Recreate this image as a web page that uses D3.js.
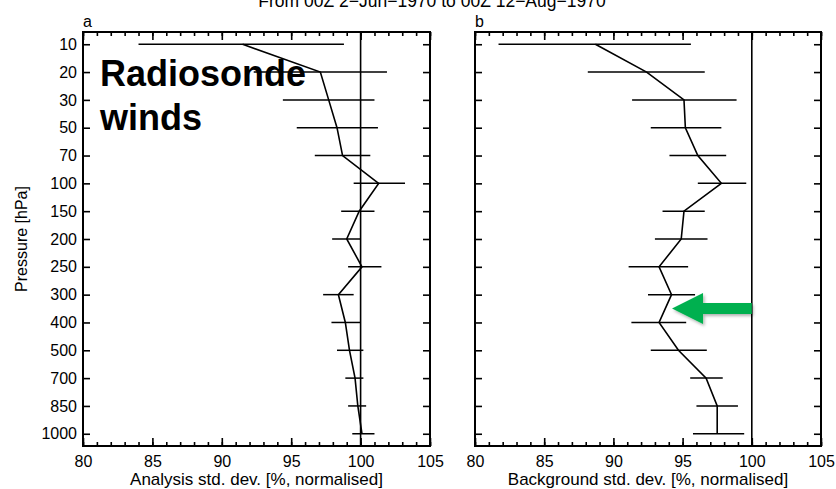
<!DOCTYPE html>
<html>
<head>
<meta charset="utf-8">
<script src="https://cdn.jsdelivr.net/npm/d3@7"></script>
<style>
  body { margin: 0; background: #fff; }
  text { font-family: "Liberation Sans", Arial, sans-serif; fill: #000; }
</style>
</head>
<body>
<div id="chart"></div>
<script>
// pressure levels (hPa), top to bottom
var levels = [10, 20, 30, 50, 70, 100, 150, 200, 250, 300, 400, 500, 700, 850, 1000];

// panel a: analysis std. dev. (mean and error bar ends)
var anMean = [91.5, 97.1, 97.7, 98.3, 98.7, 101.3, 99.9, 99.0, 100.1, 98.4, 98.9, 99.2, 99.6, 99.8, 100.1];
var anLow  = [84.0, 92.3, 94.4, 95.4, 96.7, 99.5, 98.6, 97.95, 99.1, 97.3, 97.9, 98.3, 98.9, 99.1, 99.4];
var anHigh = [98.8, 101.9, 101.0, 101.25, 100.7, 103.2, 101.0, 100.0, 101.5, 99.5, 100.0, 100.2, 100.2, 100.4, 101.0];

// panel b: background std. dev.
var bgMean = [88.7, 92.4, 95.1, 95.2, 96.1, 97.8, 95.1, 94.9, 93.3, 94.2, 93.3, 94.7, 96.7, 97.5, 97.5];
var bgLow  = [81.7, 88.15, 91.35, 92.7, 94.05, 96.1, 93.55, 93.0, 91.1, 92.5, 91.3, 92.7, 95.55, 96.0, 95.75];
var bgHigh = [95.6, 96.6, 98.9, 97.8, 98.15, 99.6, 96.6, 96.8, 95.4, 95.9, 95.26, 96.75, 97.9, 99.0, 99.45];

var xTicks = [80, 85, 90, 95, 100, 105];
var title = "From 00Z  2\u2212Jun\u22121970 to 00Z 12\u2212Aug\u22121970";

var width = 836, height = 489;
var plotTop = 32, plotBottom = 446;

var svg = d3.select("#chart").append("svg")
  .attr("width", width)
  .attr("height", height);

svg.append("rect").attr("width", width).attr("height", height).attr("fill", "#fff");

var defs = svg.append("defs");
var shadow = defs.append("filter").attr("id", "shadow")
  .attr("x", "-20%").attr("y", "-40%").attr("width", "150%").attr("height", "200%");
shadow.append("feDropShadow").attr("dx", 1.5).attr("dy", 2).attr("stdDeviation", 1.5)
  .attr("flood-color", "#000").attr("flood-opacity", 0.3);

// title sits mostly above the top edge, as in the original
svg.append("text").attr("x", 432).attr("y", 7).attr("text-anchor", "middle")
  .style("font-size", "17.5px").text(title);

var y = d3.scalePoint().domain(levels).range([plotTop, plotBottom]).padding(0.44);

function drawPanel(left, right, letter, xLabel, mean, low, high, showY) {
  var x = d3.scaleLinear().domain([80, 105]).range([left, right]);
  var g = svg.append("g");

  // minor ticks bottom and top
  g.append("g").attr("transform", "translate(0," + plotBottom + ")")
    .call(d3.axisBottom(x).tickValues(d3.range(80, 106, 1)).tickSize(-4).tickFormat(""));
  g.append("g").attr("transform", "translate(0," + plotTop + ")")
    .call(d3.axisTop(x).tickValues(d3.range(80, 106, 1)).tickSize(-4).tickFormat(""));
  // major ticks
  g.append("g").attr("transform", "translate(0," + plotBottom + ")")
    .call(d3.axisBottom(x).tickValues(xTicks).tickSize(-8).tickPadding(10).tickFormat(d3.format("d")));
  g.append("g").attr("transform", "translate(0," + plotTop + ")")
    .call(d3.axisTop(x).tickValues(xTicks).tickSize(-8).tickFormat(""));

  // y ticks both sides
  var yl = d3.axisLeft(y).tickSize(-7).tickPadding(6);
  if (!showY) yl.tickFormat("");
  g.append("g").attr("transform", "translate(" + left + ",0)").call(yl);
  g.append("g").attr("transform", "translate(" + right + ",0)")
    .call(d3.axisRight(y).tickSize(-7).tickFormat(""));

  g.selectAll(".domain").remove();
  g.selectAll(".tick line").attr("stroke", "#000").attr("stroke-width", 1.6);
  g.selectAll(".tick text").style("font-size", "16px").attr("fill", "#000")
    .style("font-family", "'Liberation Sans', Arial, sans-serif");

  // reference line at 100 %
  g.append("line")
    .attr("x1", x(100)).attr("x2", x(100))
    .attr("y1", plotTop).attr("y2", plotBottom)
    .attr("stroke", "#000").attr("stroke-width", 1.6);

  // error bars
  g.selectAll(".err").data(levels).enter().append("line")
    .attr("x1", function(d, i) { return x(low[i]); })
    .attr("x2", function(d, i) { return x(high[i]); })
    .attr("y1", function(d) { return y(d); })
    .attr("y2", function(d) { return y(d); })
    .attr("stroke", "#000").attr("stroke-width", 1.5);

  // profile
  var line = d3.line()
    .x(function(d, i) { return x(mean[i]); })
    .y(function(d) { return y(d); });
  g.append("path").datum(levels)
    .attr("d", line)
    .attr("fill", "none").attr("stroke", "#000").attr("stroke-width", 1.6);

  // frame
  g.append("rect")
    .attr("x", left).attr("y", plotTop)
    .attr("width", right - left).attr("height", plotBottom - plotTop)
    .attr("fill", "none").attr("stroke", "#000").attr("stroke-width", 2);

  g.append("text").attr("x", left).attr("y", 27).style("font-size", "16px").text(letter);
  g.append("text").attr("x", (left + right) / 2).attr("y", 485)
    .attr("text-anchor", "middle").style("font-size", "17px").text(xLabel);

  return { x: x, g: g };
}

var pa = drawPanel(83, 430, "a", "Analysis std. dev. [%, normalised]", anMean, anLow, anHigh, true);
var pb = drawPanel(475, 821, "b", "Background std. dev. [%, normalised]", bgMean, bgLow, bgHigh, false);

svg.append("text")
  .attr("transform", "translate(27," + (plotTop + plotBottom) / 2 + ") rotate(-90)")
  .attr("text-anchor", "middle").style("font-size", "16px")
  .text("Pressure [hPa]");

// big annotation in panel a
var note = pa.g.append("text").attr("x", 100).attr("y", 86)
  .style("font-size", "36px").style("font-weight", "bold");
note.append("tspan").attr("x", 100).text("Radiosonde");
note.append("tspan").attr("x", 100).attr("dy", 44).text("winds");

// green arrow pointing at the 300-400 hPa kink in panel b
var bx = pb.x;
var ay = (y(300) + y(400)) / 2;
var tipX = bx(bgMean[levels.indexOf(300)]) + 0.5;
var tailX = bx(100);
var headX = tipX + 31;
var arrow = d3.path();
arrow.moveTo(tipX, ay);
arrow.lineTo(headX, ay - 15.5);
arrow.lineTo(headX, ay - 5.5);
arrow.lineTo(tailX, ay - 5.5);
arrow.lineTo(tailX, ay + 5.5);
arrow.lineTo(headX, ay + 5.5);
arrow.lineTo(headX, ay + 15.5);
arrow.closePath();
svg.append("path").attr("d", arrow.toString())
  .attr("fill", "#00b050").attr("filter", "url(#shadow)");
</script>
</body>
</html>
